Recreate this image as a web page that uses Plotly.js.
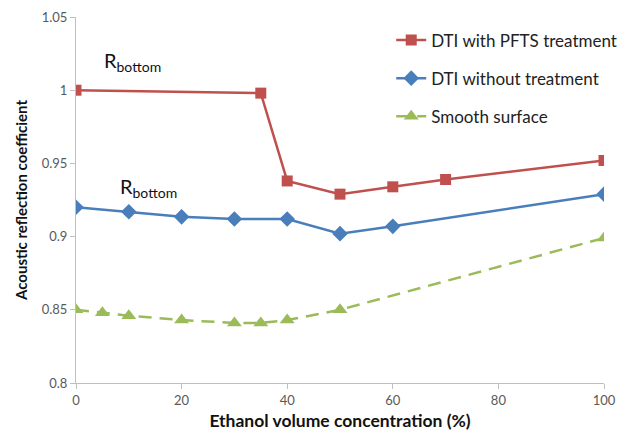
<!DOCTYPE html>
<html>
<head>
<meta charset="utf-8">
<script src="https://cdn.plot.ly/plotly-3.0.1.min.js"></script>
<style>html,body{margin:0;padding:0;background:#fff;}#chart{width:635px;height:436px;}</style>
</head>
<body>
<div id="chart"></div>
<script>
var redX = [0, 35, 40, 50, 60, 70, 100];
var redY = [1.000, 0.998, 0.938, 0.929, 0.934, 0.939, 0.952];
var blueX = [0, 10, 20, 30, 40, 50, 60, 100];
var blueY = [0.920, 0.917, 0.9135, 0.912, 0.912, 0.902, 0.907, 0.929];
var greenX = [0, 5, 10, 20, 30, 35, 40, 50, 100];
var greenY = [0.850, 0.848, 0.846, 0.843, 0.841, 0.841, 0.843, 0.850, 0.899];
var seriesNames = ["DTI with PFTS treatment", "DTI without treatment", "Smooth surface"];
var xTicks = [0, 20, 40, 60, 80, 100];
var yTicks = [0.8, 0.85, 0.9, 0.95, 1, 1.05];
var yTickText = ["0.8", "0.85", "0.9", "0.95", "1", "1.05"];

var FONT = "Lato, 'Open Sans', sans-serif";
var ANN = "<span style='font-size:20px'>R</span><sub><span style='font-size:14px'>bottom</span></sub>";
var traces = [
  {x: redX, y: redY, name: seriesNames[0], legendgroup: "a", mode: "lines+markers",
   line: {color: "#C0504D", width: 2.5}, marker: {symbol: "square", size: 11, color: "#C0504D"}},
  {x: blueX, y: blueY, name: seriesNames[1], legendgroup: "b", mode: "lines+markers",
   line: {color: "#4A7EBB", width: 2.5}, marker: {symbol: "diamond", size: 12, color: "#4A7EBB"}},
  {x: greenX, y: greenY, name: seriesNames[2], legendgroup: "c", mode: "lines+markers",
   line: {color: "#9BBB59", width: 2.5, dash: "13px,8px"}, marker: {symbol: "triangle-up", size: 13, color: "#9BBB59"}}
];
var layout = {
  width: 635, height: 436,
  margin: {l: 76, r: 31, t: 17, b: 53},
  paper_bgcolor: "#fff", plot_bgcolor: "#fff",
  font: {family: FONT, color: "#333"},
  showlegend: true,
  legend: {x: 0.597, y: 0.985, xanchor: "left", yanchor: "top", bgcolor: "rgba(0,0,0,0)",
           font: {size: 17, color: "#222", family: FONT}, tracegroupgap: 13, itemwidth: 30},
  xaxis: {range: [0, 100], tickvals: xTicks, ticks: "outside", ticklen: 5, tickcolor: "#bfbfbf",
          showline: true, linecolor: "#bfbfbf", linewidth: 1, showgrid: false, zeroline: false,
          tickfont: {size: 13, color: "#595959", family: FONT},
          title: {text: "Ethanol volume concentration (%)", font: {size: 17.5, color: "#111", family: FONT, weight: "bold"}, standoff: 8}},
  yaxis: {range: [0.8, 1.05], tickvals: yTicks, ticktext: yTickText, ticks: "outside", ticklen: 5, tickcolor: "#bfbfbf",
          showline: true, linecolor: "#bfbfbf", linewidth: 1, showgrid: false, zeroline: false,
          tickfont: {size: 13, color: "#595959", family: FONT},
          title: {text: "Acoustic reflection coefficient", font: {size: 15, color: "#111", family: FONT, weight: "bold"}, standoff: 10}},
  annotations: [
    {x: 5, y: 1.0089, xref: "x", yref: "y", text: ANN, showarrow: false,
     font: {size: 20, color: "#111", family: FONT}, xanchor: "left", yanchor: "bottom"},
    {x: 8, y: 0.9228, xref: "x", yref: "y", text: ANN, showarrow: false,
     font: {size: 20, color: "#111", family: FONT}, xanchor: "left", yanchor: "bottom"}
  ]
};
Plotly.newPlot("chart", traces, layout, {displayModeBar: false, staticPlot: true});
</script>
</body>
</html>
